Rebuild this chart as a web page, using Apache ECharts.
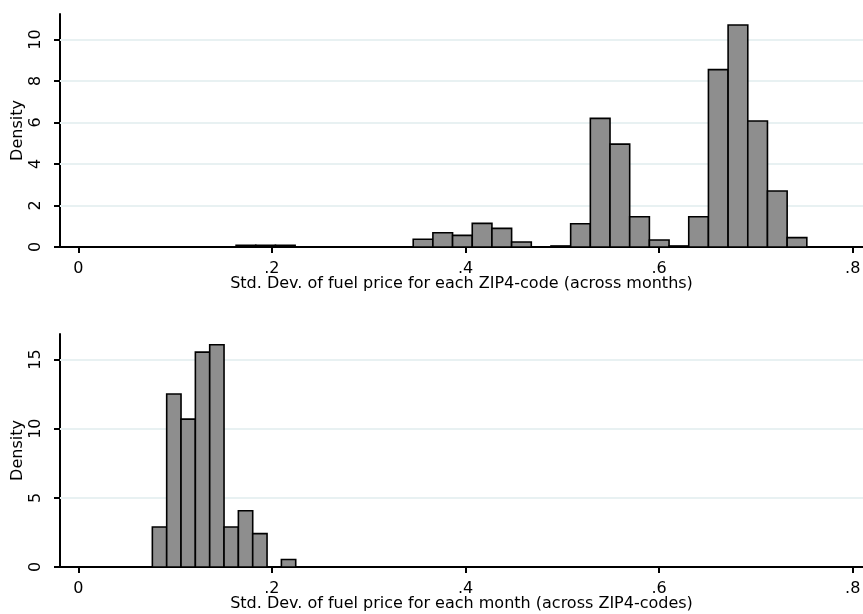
<!DOCTYPE html>
<html>
<head>
<meta charset="utf-8">
<script src="https://cdn.jsdelivr.net/npm/echarts@6/dist/echarts.min.js"></script>
<style>
html,body{margin:0;padding:0;background:#fff;}
#c{width:863px;height:614px;}
</style>
</head>
<body>
<div id="c"></div>
<script>
// ---- Data ----
// Top histogram: std. dev. across months for each ZIP4-code
const topBinStart = 0.1630;
const topBinWidth = 0.02033;
const topHeights = [0.08, 0.08, 0.08, 0, 0, 0, 0, 0, 0, 0.37, 0.69, 0.56, 1.14, 0.90, 0.24, 0, 0.05, 1.12, 6.20, 4.96, 1.46, 0.34, 0.05, 1.46, 8.55, 10.70, 6.07, 2.70, 0.45];
// Bottom histogram: std. dev. across ZIP4-codes for each month
const botBinStart = 0.0765;
const botBinWidth = 0.01481;
const botHeights = [2.89, 12.5, 10.69, 15.53, 16.06, 2.89, 4.07, 2.41, 0, 0.54];

const xTickValues = [0, 0.2, 0.4, 0.6, 0.8];
const xTickLabels = ['0', '.2', '.4', '.6', '.8'];
const topYTicks = [0, 2, 4, 6, 8, 10];
const botYTicks = [0, 5, 10, 15];
const topTitle = 'Std. Dev. of fuel price for each ZIP4-code (across months)';
const botTitle = 'Std. Dev. of fuel price for each month (across ZIP4-codes)';
const yTitle = 'Density';

// ---- build ----
function bins(start, width, heights) {
  const out = [];
  heights.forEach((h, i) => {
    if (h > 0) out.push([start + i * width, start + (i + 1) * width, h]);
  });
  return out;
}
const FONT = 'DejaVu Sans';
const FS = 16;

function xAxisCfg(idx, name) {
  return {
    type: 'value', gridIndex: idx, min: -0.0189, max: 0.8106,
    name: name, nameLocation: 'middle', nameGap: 29, nameMoveOverlap: false,
    nameTextStyle: {fontFamily: FONT, fontSize: FS, color: '#000'},
    axisLine: {show: true, onZero: false, lineStyle: {color: '#000', width: 2}},
    axisTick: {show: true, length: 6, customValues: xTickValues, lineStyle: {color: '#000', width: 2}},
    axisLabel: {
      customValues: xTickValues, margin: 14, fontFamily: FONT, fontSize: FS, color: '#000',
      formatter: v => { const i = xTickValues.findIndex(t => Math.abs(t - v) < 1e-9); return i >= 0 ? xTickLabels[i] : ''; }
    },
    splitLine: {show: false}
  };
}
function yAxisCfg(idx, max, ticks, interval) {
  return {
    type: 'value', gridIndex: idx, min: 0, max: max, interval: interval,
    name: yTitle, nameLocation: 'middle', nameGap: 34, nameRotate: 90, nameMoveOverlap: false,
    nameTextStyle: {fontFamily: FONT, fontSize: FS, color: '#000'},
    axisLine: {show: true, onZero: false, lineStyle: {color: '#000', width: 2}},
    axisTick: {show: true, length: 6, customValues: ticks, lineStyle: {color: '#000', width: 2}},
    axisLabel: {customValues: ticks, rotate: 90, margin: 16, fontFamily: FONT, fontSize: FS, color: '#000'},
    splitLine: {show: false}
  };
}
function gridLines(idx, ticks) {
  return {
    type: 'line', xAxisIndex: idx, yAxisIndex: idx, data: [], silent: true, z: 1,
    markLine: {
      silent: true, symbol: 'none', label: {show: false}, z: 1,
      lineStyle: {color: '#e8f1f2', width: 2, type: 'solid'},
      data: ticks.filter(t => t > 0).map(t => ({yAxis: t}))
    }
  };
}
function histSeries(idx, data) {
  return {
    type: 'custom', xAxisIndex: idx, yAxisIndex: idx, z: 3,
    encode: {x: [0, 1], y: 2},
    data: data,
    renderItem: (params, api) => {
      const p0 = api.coord([api.value(0), api.value(2)]);
      const p1 = api.coord([api.value(1), 0]);
      return {
        type: 'rect',
        shape: {x: p0[0], y: p0[1], width: p1[0] - p0[0], height: p1[1] - p0[1]},
        style: {fill: '#8e8e8e', stroke: '#000', lineWidth: 1.6}
      };
    }
  };
}

const chart = echarts.init(document.getElementById('c'), null, {renderer: 'canvas'});
chart.setOption({
  animation: false,
  backgroundColor: '#fff',
  grid: [
    {left: 60, top: 14, width: 803, height: 233, containLabel: false, outerBoundsMode: 'none'},
    {left: 60, top: 334, width: 803, height: 233, containLabel: false, outerBoundsMode: 'none'}
  ],
  xAxis: [xAxisCfg(0, topTitle), xAxisCfg(1, botTitle)],
  yAxis: [yAxisCfg(0, 11.23, topYTicks, 2), yAxisCfg(1, 16.84, botYTicks, 5)],
  series: [
    gridLines(0, topYTicks), gridLines(1, botYTicks),
    histSeries(0, bins(topBinStart, topBinWidth, topHeights)),
    histSeries(1, bins(botBinStart, botBinWidth, botHeights))
  ]
});
</script>
</body>
</html>
